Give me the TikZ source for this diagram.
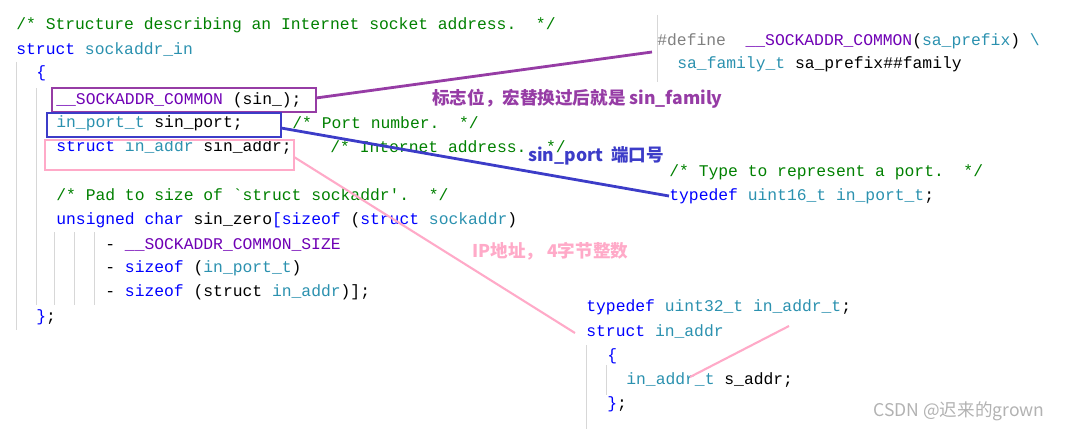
\documentclass[tikz,border=0pt]{standalone}
\usepackage{fontspec}
\setmonofont{Liberation Mono}
\newfontfamily\cjk{Noto Sans CJK SC}
\definecolor{kwblue}{RGB}{0,0,255}
\definecolor{tyteal}{RGB}{43,145,175}
\definecolor{cmgreen}{RGB}{0,128,0}
\definecolor{mcpurple}{RGB}{111,0,180}
\definecolor{notepurple}{RGB}{150,60,165}
\definecolor{noteblue}{RGB}{60,60,200}
\definecolor{notepink}{RGB}{255,170,200}
\definecolor{guide}{RGB}{215,215,215}
\newcommand{\kw}[1]{\textcolor{kwblue}{#1}}
\newcommand{\ty}[1]{\textcolor{tyteal}{#1}}
\newcommand{\cm}[1]{\textcolor{cmgreen}{#1}}
\newcommand{\mc}[1]{\textcolor{mcpurple}{#1}}
\begin{document}
\begin{tikzpicture}[x=0.02cm,y=-0.02cm]
        \tikzset{code/.style = {anchor=west,inner sep=0pt,font=\fontsize{9.3pt}{10pt}\ttfamily}}
        \tikzset{note/.style = {anchor=west,inner sep=0pt,font=\fontsize{10pt}{11pt}\cjk\bfseries}}
        \tikzset{markline/.style = {line width=1.6pt}}
        \useasboundingbox (0,0) rectangle (1070,429);
        % guides
        \draw[guide] (16,62) -- (16,330);
        \draw[guide] (36,88) -- (36,305);
        \foreach \gx in {54,74,94} \draw[guide] (\gx,232) -- (\gx,305);
        \draw[guide] (657,15) -- (657,82);
        \draw[guide] (586,345) -- (586,429);
        \draw[guide] (606,365) -- (606,395);
        % code, left
        \node[code] (l1) at (16,25) {\cm{/* Structure describing an Internet socket address.\ \ */}};
        \node[code] (l2) at (16,49) {\kw{struct} \ty{sockaddr\_in}};
        \node[code] (l3) at (36,73) {\kw{\{}};
        \node[code] (common) at (56,100) {\mc{\_\_SOCKADDR\_COMMON} (sin\_);};
        \node[code] (port) at (56,123) {\ty{in\_port\_t} sin\_port;};
        \node[code] (portcm) at (292,123) {\cm{/* Port number.\ \ */}};
        \node[code] (addr) at (56,147) {\kw{struct} \ty{in\_addr} sin\_addr;};
        \node[code] (addrcm) at (330,147) {\cm{/* Internet address.\ \ */}};
        \node[code] (l7) at (56,195) {\cm{/* Pad to size of `struct sockaddr'.\ \ */}};
        \node[code] (l8) at (56,220) {\kw{unsigned} \kw{char} sin\_zero\kw{[sizeof} (\kw{struct} \ty{sockaddr})};
        \node[code] (l9) at (105,245) {- \mc{\_\_SOCKADDR\_COMMON\_SIZE}};
        \node[code] (l10) at (105,268) {- \kw{sizeof} (\ty{in\_port\_t})};
        \node[code] (l11) at (105,292) {- \kw{sizeof} (struct \ty{in\_addr})];};
        \node[code] (l12) at (36,317) {\kw{\}};};
        % code, right
        \node[code] (define) at (657,41) {\textcolor{gray}{\#define}\ \ \mc{\_\_SOCKADDR\_COMMON}(\ty{sa\_prefix}) \textcolor{tyteal}{\textbackslash}};
        \node[code] (family) at (677,64) {\ty{sa\_family\_t} sa\_prefix\#\#family};
        \node[code] (typecm) at (669,172) {\cm{/* Type to represent a port.\ \ */}};
        \node[code] (uint16) at (669,196) {\kw{typedef} \ty{uint16\_t} \ty{in\_port\_t};};
        \node[code] (uint32) at (586,307) {\kw{typedef} \ty{uint32\_t} \ty{in\_addr\_t};};
        \node[code] (inaddr) at (586,331) {\kw{struct} \ty{in\_addr}};
        \node[code] (r3) at (607,356) {\kw{\{}};
        \node[code] (saddr) at (626,380) {\ty{in\_addr\_t} s\_addr;};
        \node[code] (r5) at (607,404) {\kw{\}};};
        % notes
        \node[note,text=notepurple] (flag) at (432,99) {标志位，宏替换过后就是 sin\_family};
        \node[note,text=noteblue] (portnote) at (528,156) {sin\_port\ \ 端口号};
        \node[note,text=notepink] (ipnote) at (472,251) {IP地址， 4字节整数};
        \node[anchor=west,inner sep=0pt,text=gray!60,font=\fontsize{10pt}{11pt}\cjk] (csdn) at (873,411) {CSDN @迟来的grown};
        % boxes and leaders
        \draw[markline,notepurple] (52,88) rectangle (316,112);
        \draw[markline,noteblue] (47,113) rectangle (281,137);
        \draw[markline,notepink] (45,140) rectangle (294,170);
        \coordinate (pplend) at (652,52);
        \coordinate (pkend) at (690,377);
        \coordinate (pkstart) at (789,326);
        \draw[markline,notepurple] (316,98) -- (pplend);
        \draw[markline,noteblue] (281,128) -- (uint16.west);
        \draw[line width=1.2pt,notepink] (294,157) -- (575,333);
        \draw[line width=1.2pt,notepink] (pkend) -- (pkstart);
\end{tikzpicture}
\end{document}
